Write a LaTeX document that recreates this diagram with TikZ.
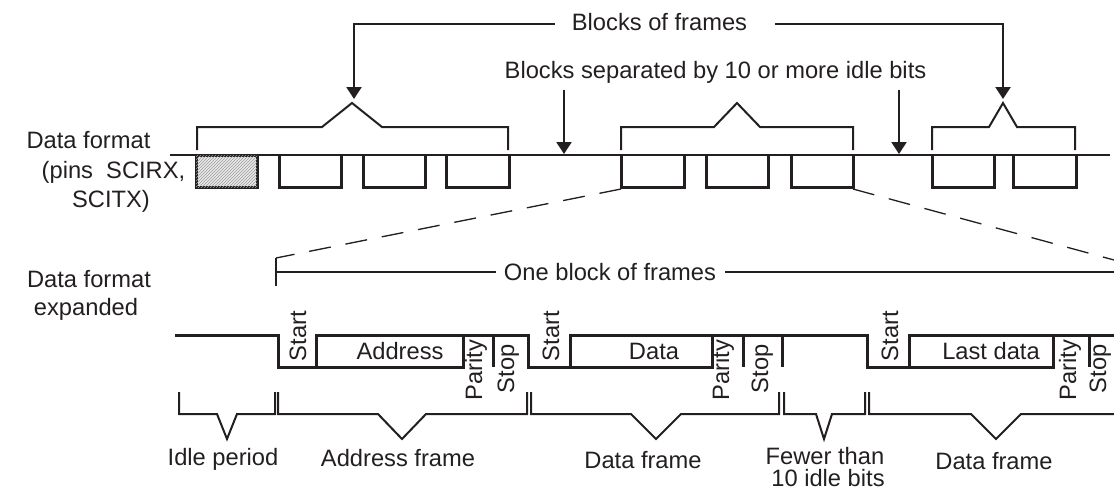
\documentclass[tikz,border=0pt]{standalone}
\usepackage{fontspec}
\setmainfont{Liberation Sans}
\usetikzlibrary{arrows.meta,patterns}
\definecolor{ink}{RGB}{35,31,32}

\begin{document}
\begin{tikzpicture}[
  x=1pt, y=-1pt,
  color=ink,
  font=\fontsize{23.7}{28}\selectfont,
  lbl/.style={inner sep=0pt, anchor=base},
  vlbl/.style={lbl, rotate=90},
  sig/.style={line width=3pt},
  brk/.style={line width=2pt},
  flow/.style={-{Triangle[length=12pt,width=15pt]}, line width=2.3pt},
  zoomln/.style={line width=1.3pt, dash pattern=on 22pt off 15pt}
]
\useasboundingbox (0,0) rectangle (1114,491);

% text labels
\node[lbl] (bof) at (659.5,30.5) {Blocks of frames};
\node[lbl] (bsep) at (715.5,78.5) {Blocks separated by 10 or more idle bits};
\node[lbl] (df) at (88.5,148) {Data format};
\node[lbl] (dfb) at (113.5,178) {(pins\ \ SCIRX,};
\node[lbl] (dfc) at (111,207) {SCITX)};
\node[lbl] (dfx) at (89,287) {Data format};
\node[lbl] (dfxb) at (86,315) {expanded};
\node[lbl] (obf) at (610,280) {One block of frames};

\coordinate (pk1) at (354,99);
\coordinate (pk3) at (1003,99);
\coordinate (gap1) at (564,154);
\coordinate (gap2) at (899,154);
\coordinate (blk2l) at (621,189);
\coordinate (blk2r) at (853,189);
\coordinate (obtick) at (276,272);
\coordinate (rend) at (1114,0);
\coordinate (zr) at (1114,260);

% arrows from the labels
\draw[flow] ([shift={(-17pt,6.5pt)}]bof.base west) -| (pk1);
\draw[flow] ([shift={(28pt,6.5pt)}]bof.base east) -| (pk3);
\draw[flow, shorten <=6pt] (gap1 |- bsep.south) -- (gap1);
\draw[flow, shorten <=6pt] (gap2 |- bsep.south) -- (gap2);

% data line with frames
\draw[line width=2.7pt] (170,155) -- (1110,155);
\draw[sig, fill=gray!18, postaction={pattern=north east lines, pattern color=gray!75}] (196,155) rectangle (257,187);
\foreach \p/\q in {279/341, 363/425, 446/509, 621/684, 706/768, 791/853, 932/994, 1013/1076}
  \draw[sig] (\p,155) -- (\p,187) -- (\q,187) -- (\q,155);

% block brackets
\foreach \l/\c/\w/\r in {197/352/30/508, 621/737/23/853, 932/1003/14/1075}
  \draw[brk] (\l,150) -- (\l,127) -- (\c-\w,127) -- (\c,103) -- (\c+\w,127) -- (\r,127) -- (\r,150);

% expansion
\draw[zoomln] (blk2l) -- ([yshift=14pt]obtick);
\draw[zoomln] (blk2r) -- (zr);
\draw[brk] ([yshift=14pt]obtick) -- ([yshift=-14pt]obtick);
\draw[brk, shorten >=8pt] (obtick) -- (obtick -| obf.west);
\draw[brk, shorten <=9pt] (obtick -| obf.east) -- (obtick -| rend);

% expanded waveform
\draw[sig] (175,335) -- (278,335) -- (278,367) -- (463,367) -- (463,335);
\draw[sig] (316,367) -- (316,335) -- (528,335) -- (528,367) -- (712,367) -- (712,335);
\draw[sig] (570,367) -- (570,335) -- (867,335) -- (867,367) -- (1053,367) -- (1053,335);
\draw[sig] (909,367) -- (909,335) -- (1114,335);
\foreach \t in {493,743,782,1089}
  \draw[sig] (\t,335) -- (\t,367);

\node[lbl] (addr) at (400,359) {Address};
\node[lbl] (data) at (654,359) {Data};
\node[lbl] (last) at (991,359) {Last data};
\node[vlbl] (st1) at (306,336) {Start};
\node[vlbl] (pa1) at (482,370) {Parity};
\node[vlbl] (sp1) at (514,369) {Stop};
\node[vlbl] (st2) at (559,336) {Start};
\node[vlbl] (pa2) at (729,370) {Parity};
\node[vlbl] (sp2) at (768,369) {Stop};
\node[vlbl] (st3) at (898,336) {Start};
\node[vlbl] (pa3) at (1076,370) {Parity};
\node[vlbl] (sp3) at (1106,369) {Stop};

% period brackets
\foreach \l/\c/\w/\r in {179/227/10/275, 278/402/24/527, 531/656/25/779, 784/824/8/865, 869/996/25/1120}
  \draw[brk] (\l,392) -- (\l,414) -- (\c-\w,414) -- (\c,439) -- (\c+\w,414) -- (\r,414) -- (\r,392);

\node[lbl] (idle) at (223,465) {Idle period};
\node[lbl] (addrf) at (398,466) {Address frame};
\node[lbl] (dataf) at (643,468) {Data frame};
\node[lbl] (fewer) at (825,464) {Fewer than};
\node[lbl] (fewerb) at (828,486) {10 idle bits};
\node[lbl] (datafb) at (994,469) {Data frame};
\end{tikzpicture}
\end{document}
